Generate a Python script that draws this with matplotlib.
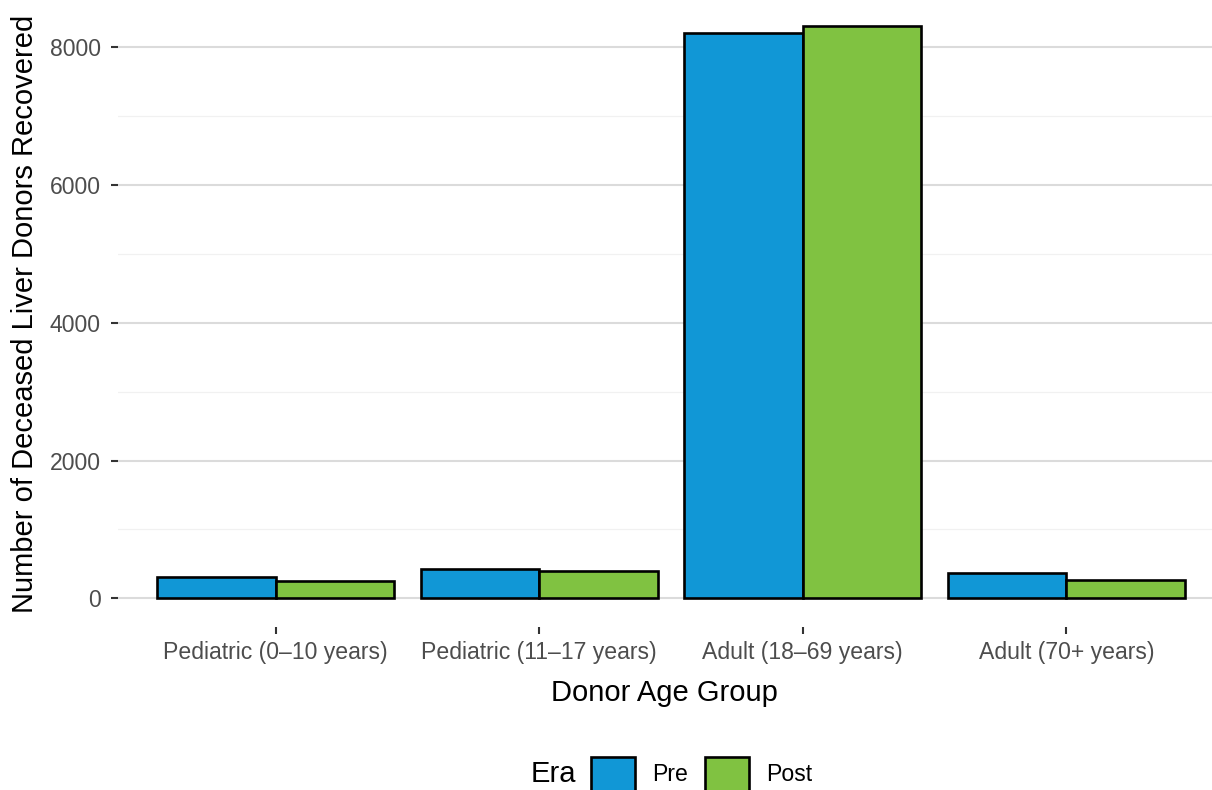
import numpy as np
import matplotlib
matplotlib.use("Agg")
import matplotlib.pyplot as plt
from matplotlib.ticker import MultipleLocator

plt.rcParams['font.family'] = ['Liberation Sans', 'DejaVu Sans']

# ── DATA ──────────────────────────────────────────────────────────────────────
categories = ["Pediatric (0\u201310 years)", "Pediatric (11\u201317 years)",
              "Adult (18\u201369 years)", "Adult (70+ years)"]
pre_counts = [305, 421, 8203, 367]
post_counts = [251, 396, 8309, 270]
eras = ["Pre", "Post"]

PRE_COLOR = "#1197D6"
POST_COLOR = "#80C241"

# ── PLOT ──────────────────────────────────────────────────────────────────────
fig = plt.figure(figsize=(12.12, 7.9), dpi=100)
fig.patch.set_facecolor("white")
ax = fig.add_axes([117.6 / 1212, 163 / 790, (1212 - 117.6) / 1212, 627 / 790])

x = np.arange(1, len(categories) + 1)
w = 0.45
b1 = ax.bar(x - w / 2, pre_counts, width=w, color=PRE_COLOR,
            edgecolor="black", linewidth=1.9, label=eras[0], zorder=3)
b2 = ax.bar(x + w / 2, post_counts, width=w, color=POST_COLOR,
            edgecolor="black", linewidth=1.9, label=eras[1], zorder=3)

ax.set_xlim(0.4, 4.553)
ax.set_ylim(-417, 8687)

ax.yaxis.set_major_locator(MultipleLocator(2000))
ax.yaxis.set_minor_locator(MultipleLocator(1000))
ax.set_xticks(x)
ax.set_xticklabels(categories)

ax.grid(axis="y", which="major", color="#DBDBDB", linewidth=1.5, zorder=0)
ax.grid(axis="y", which="minor", color="#F1F1F1", linewidth=0.9, zorder=0)
ax.grid(axis="x", visible=False)
for s in ax.spines.values():
    s.set_visible(False)

ax.tick_params(axis="both", which="major", length=5, width=1.5,
               color="#333333", labelcolor="#4D4D4D", labelsize=16.6, pad=5)
ax.tick_params(axis="y", which="minor", length=0)
ax.tick_params(axis="y", which="major", pad=7)

ax.set_xlabel("Donor Age Group", fontsize=21, color="black", labelpad=11)
ax.set_ylabel("Number of Deceased Liver Donors Recovered", fontsize=21,
              color="black", labelpad=8)

# legend at the bottom, title to the left
fig.text(553 / 1212, 1 - 774 / 790, "Era", fontsize=21, ha="center",
         va="center", color="black")
fig.legend(handles=[b1, b2], labels=eras, loc="center left",
           bbox_to_anchor=(591 / 1212, 1 - 774 / 790), ncol=2, frameon=False,
           fontsize=16.6, handlelength=1.9, handleheight=1.9,
           handletextpad=0.75, columnspacing=0.75, borderpad=0,
           borderaxespad=0)

fig.savefig("out.png", dpi=100, facecolor="white")
